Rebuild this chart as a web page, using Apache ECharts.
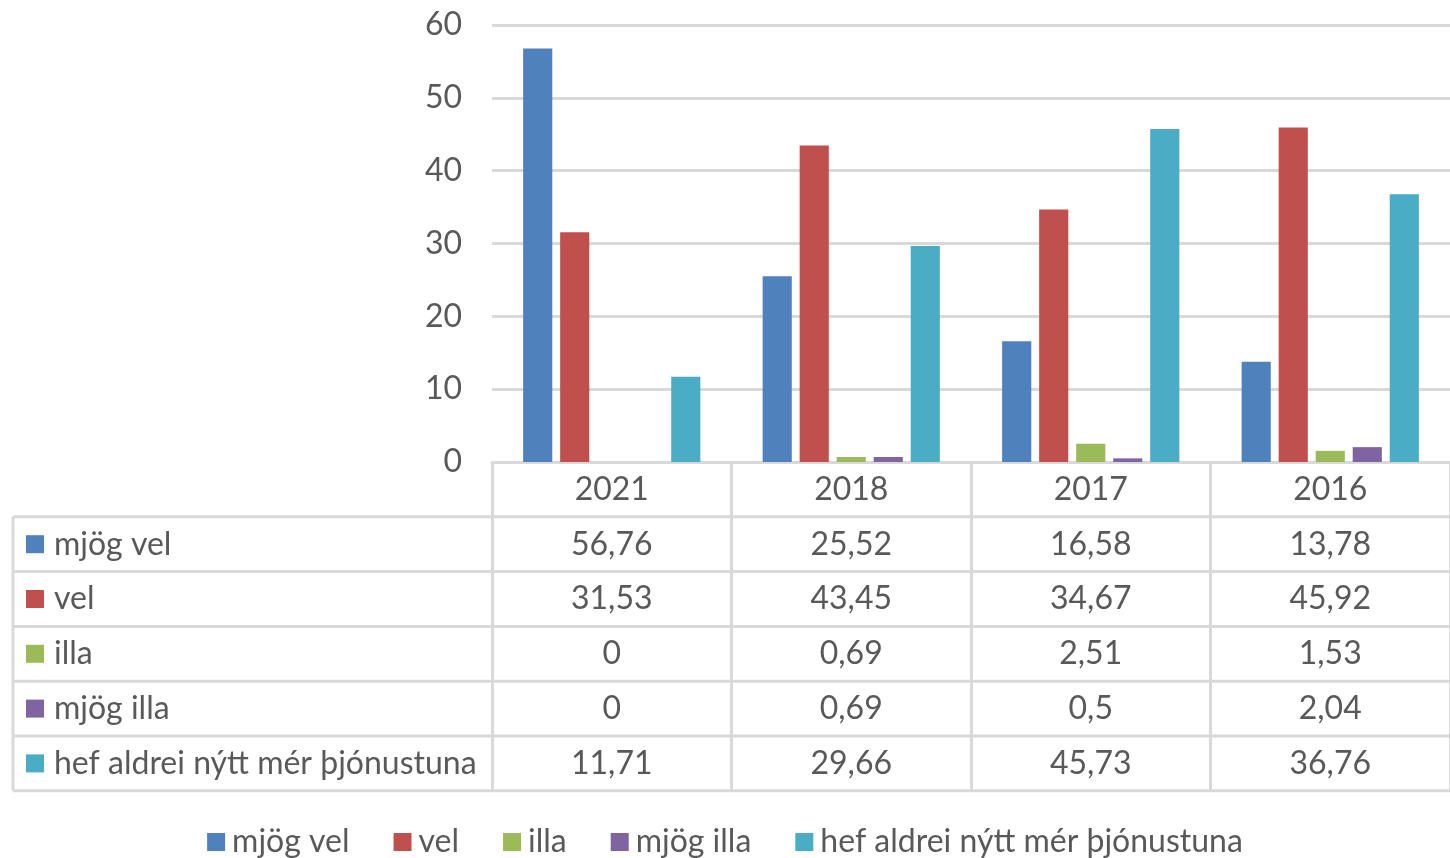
<!DOCTYPE html>
<html>
<head>
<meta charset="utf-8">
<script src="https://cdn.jsdelivr.net/npm/echarts@6/dist/echarts.min.js"></script>
<style>
html,body{margin:0;padding:0;background:#fff;}
#chart{width:1450px;height:858px;}
</style>
</head>
<body>
<div id="chart"></div>
<script>
const categories = ['2021', '2018', '2017', '2016'];
const seriesNames = ['mjög vel', 'vel', 'illa', 'mjög illa', 'hef aldrei nýtt mér þjónustuna'];
const mjogVel = [56.76, 25.52, 16.58, 13.78];
const vel = [31.53, 43.45, 34.67, 45.92];
const illa = [0, 0.69, 2.51, 1.53];
const mjogIlla = [0, 0.69, 0.5, 2.04];
const hefAldrei = [11.71, 29.66, 45.73, 36.76];
const seriesValues = [mjogVel, vel, illa, mjogIlla, hefAldrei];
const colors = ['#4F81BD', '#C0504D', '#9BBB59', '#8064A2', '#4BACC6'];

const FONT = 'Lato';
const FS = 32;
const TXT = '#595959';
const LINE = '#D9D9D9';
const ROW_H = 54.8;
const TABLE_LEFT = 13;

const fmt = v => String(v).replace('.', ',');

const chart = echarts.init(document.getElementById('chart'), null, {renderer: 'canvas'});

const option = {
  animation: false,
  backgroundColor: '#fff',
  textStyle: {fontFamily: FONT, color: TXT},
  grid: {left: 492, right: -3, top: 25, bottom: 396, containLabel: false},
  legend: {
    data: seriesNames,
    left: 'center',
    top: 821,
    itemWidth: 18,
    itemHeight: 18,
    itemGap: 44,
    icon: 'rect',
    textStyle: {fontFamily: FONT, fontSize: FS, color: TXT, padding: [0, 0, 0, 2]}
  },
  xAxis: {
    type: 'category',
    data: categories,
    boundaryGap: true,
    axisLine: {show: true, lineStyle: {color: LINE, width: 3}},
    axisTick: {show: true, length: 6 * ROW_H, lineStyle: {color: LINE, width: 3}},
    axisLabel: {show: true, fontFamily: FONT, fontSize: FS, color: TXT, margin: 12},
    splitLine: {show: false}
  },
  yAxis: {
    type: 'value',
    min: 0,
    max: 60,
    interval: 10,
    axisLine: {show: false},
    axisTick: {show: false},
    axisLabel: {fontFamily: FONT, fontSize: FS, color: TXT, margin: 30},
    splitLine: {lineStyle: {color: LINE, width: 3}}
  },
  series: seriesNames.map((name, i) => ({
    name: name,
    type: 'bar',
    data: seriesValues[i],
    barGap: '27%',
    barCategoryGap: '26%',
    itemStyle: {color: colors[i]}
  }))
};
chart.setOption(option);

// Data table built from the same arrays, positioned by the category axis scale
function buildTable() {
  const x0 = chart.convertToPixel({xAxisIndex: 0}, categories[0]);
  const x1 = chart.convertToPixel({xAxisIndex: 0}, categories[1]);
  const band = x1 - x0;
  const yTop = chart.convertToPixel({yAxisIndex: 0}, 0);
  const gridLeft = x0 - band / 2;
  const gridRight = gridLeft + band * categories.length;
  const elements = [];
  for (let r = 1; r <= seriesNames.length + 1; r++) {
    const y = yTop + r * ROW_H;
    elements.push({type: 'line', shape: {x1: TABLE_LEFT, y1: y, x2: gridRight, y2: y},
      style: {stroke: LINE, lineWidth: 3}, silent: true});
  }
  elements.push({type: 'line', shape: {x1: TABLE_LEFT, y1: yTop + ROW_H, x2: TABLE_LEFT, y2: yTop + (seriesNames.length + 1) * ROW_H},
    style: {stroke: LINE, lineWidth: 3}, silent: true});
  seriesNames.forEach((name, i) => {
    const cy = yTop + (i + 1.5) * ROW_H;
    elements.push({type: 'rect', shape: {x: 26, y: cy - 9, width: 18, height: 18},
      style: {fill: colors[i]}, silent: true});
    elements.push({type: 'text', x: 54, y: cy,
      style: {text: name, fontFamily: FONT, fontSize: FS, fill: TXT, verticalAlign: 'middle', align: 'left'}, silent: true});
    seriesValues[i].forEach((v, j) => {
      const cx = chart.convertToPixel({xAxisIndex: 0}, categories[j]);
      elements.push({type: 'text', x: cx, y: cy,
        style: {text: fmt(v), fontFamily: FONT, fontSize: FS, fill: TXT, verticalAlign: 'middle', align: 'center'}, silent: true});
    });
  });
  chart.setOption({graphic: {elements: elements}});
}
buildTable();
</script>
</body>
</html>
